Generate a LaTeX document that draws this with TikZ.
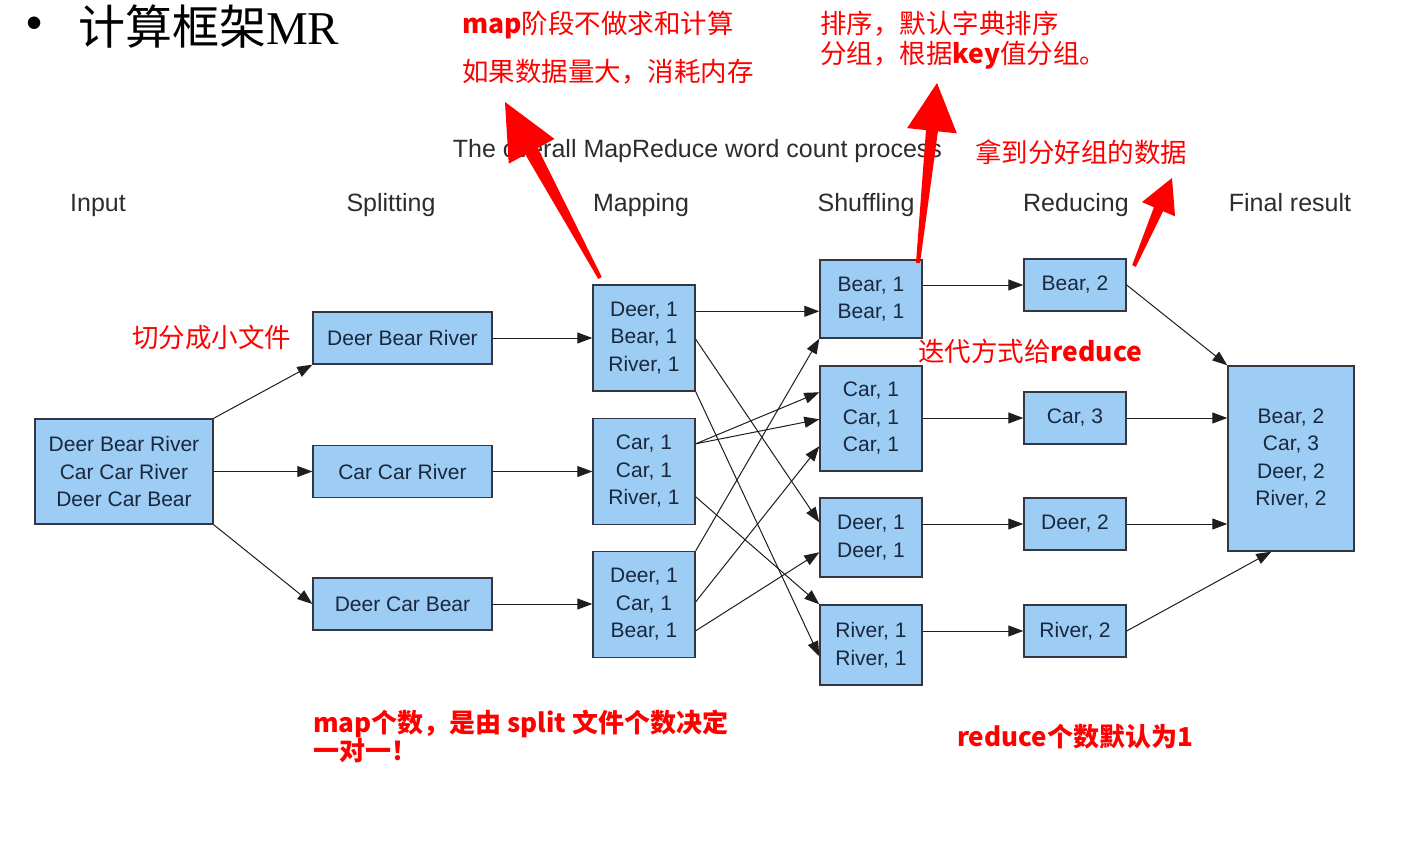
\documentclass[tikz,border=0pt]{standalone}
\usepackage{fontspec}
\setmainfont{Liberation Sans}
\newfontfamily\cjk{Noto Sans CJK SC}
\newfontfamily\serifmr{Liberation Serif}
\usetikzlibrary{arrows.meta,calc}
\definecolor{boxblue}{RGB}{157,204,245}
\definecolor{boxline}{RGB}{50,55,65}
\definecolor{boxtext}{RGB}{25,40,60}
\definecolor{headtext}{RGB}{45,45,45}
\definecolor{conncol}{RGB}{30,30,30}
\definecolor{annred}{RGB}{255,0,0}
\tikzset{
 box/.style={draw=boxline, line width=1.4pt, fill=boxblue, text=boxtext,
   font=\fontsize{21}{27.5}\selectfont, align=center, inner sep=0pt},
 head/.style={text=headtext, font=\fontsize{25}{30}\selectfont, anchor=base, inner sep=0pt},
 conn/.style={draw=conncol, line width=1pt, -{Triangle[length=15pt,width=11pt]}},
 ann/.style={text=annred, font=\cjk\fontsize{26.5}{30}\selectfont, anchor=west, inner sep=0pt, align=left},
 annb/.style={text=annred, font=\cjk\bfseries\fontsize{26}{28}\selectfont, anchor=west, inner sep=0pt, align=left},
 redarrow/.style={fill=annred},
}
\newcommand{\bigarrow}[6]{%
 \coordinate (#3h) at ($(#2)!#4!(#1)$);
 \fill[redarrow] ($(#1)!2pt!90:(#2)$) -- ($(#3h)!#6!90:(#2)$) -- ($(#3h)!#5!90:(#2)$) -- (#2)
   -- ($(#3h)!#5!-90:(#2)$) -- ($(#3h)!#6!-90:(#2)$) -- ($(#1)!2pt!-90:(#2)$) -- cycle;
}
\begin{document}
\begin{tikzpicture}[x=1pt,y=-1pt]
\useasboundingbox[fill=white] (0,0) rectangle (1401,851);

% title
\node[inner sep=0pt, font=\fontsize{46}{50}\selectfont] (bul) at (35,28) {•};
\node[inner sep=0pt, anchor=west, font=\fontsize{47}{52}\selectfont] (ttl) at (78,27) {{\cjk 计算框架}{\serifmr MR}};

% diagram title and headers
\node[head] (dtitle) at (697.5,157) {The overall MapReduce word count process};
\node[head] (hin) at (98,211) {Input};
\node[head] (hsp) at (391,211) {Splitting};
\node[head] (hma) at (641,211) {Mapping};
\node[head] (hsh) at (866,211) {Shuffling};
\node[head] (hre) at (1076,211) {Reducing};
\node[head] (hfi) at (1290,211) {Final result};

% boxes
\node[box, minimum width=178pt, minimum height=105pt] (inp) at (124,471.5) {Deer Bear River\\Car Car River\\Deer Car Bear};
\node[box, minimum width=179pt, minimum height=52pt] (s1) at (402.5,338) {Deer Bear River};
\node[box, minimum width=179pt, minimum height=52pt] (s2) at (402.5,471.5) {Car Car River};
\node[box, minimum width=179pt, minimum height=52pt] (s3) at (402.5,604) {Deer Car Bear};
\node[box, minimum width=102pt, minimum height=106pt] (m1) at (644,338) {Deer, 1\\Bear, 1\\River, 1};
\node[box, minimum width=102pt, minimum height=106pt] (m2) at (644,471.5) {Car, 1\\Car, 1\\River, 1};
\node[box, minimum width=102pt, minimum height=106pt] (m3) at (644,604.5) {Deer, 1\\Car, 1\\Bear, 1};
\node[box, minimum width=102pt, minimum height=78pt] (sh1) at (871,299) {Bear, 1\\Bear, 1};
\node[box, minimum width=102pt, minimum height=105pt] (sh2) at (871,418.5) {Car, 1\\Car, 1\\Car, 1};
\node[box, minimum width=102pt, minimum height=79pt] (sh3) at (871,537.5) {Deer, 1\\Deer, 1};
\node[box, minimum width=102pt, minimum height=80pt] (sh4) at (871,645) {River, 1\\River, 1};
\node[box, minimum width=102pt, minimum height=52pt] (r1) at (1075,285) {Bear, 2};
\node[box, minimum width=102pt, minimum height=52pt] (r2) at (1075,418) {Car, 3};
\node[box, minimum width=102pt, minimum height=52pt] (r3) at (1075,524) {Deer, 2};
\node[box, minimum width=102pt, minimum height=52pt] (r4) at (1075,631) {River, 2};
\node[box, minimum width=126pt, minimum height=185pt] (f) at (1291,458.5) {Bear, 2\\Car, 3\\Deer, 2\\River, 2};

% connectors: input -> splitting
\draw[conn] (inp.north east) -- (s1.south west);
\draw[conn] (inp.east) -- (s2.west);
\draw[conn] (inp.south east) -- (s3.west);
% splitting -> mapping
\draw[conn] (s1.east) -- (m1.west);
\draw[conn] (s2.east) -- (m2.west);
\draw[conn] (s3.east) -- (s3.east -| m3.west);
% mapping -> shuffling
\draw[conn] ([yshift=-27pt]m1.north east) -- ([yshift=-52pt]sh1.north west);
\draw[conn] ([yshift=-55pt]m1.north east) -- ([yshift=-25pt]sh3.north west);
\draw[conn] (m1.south east) -- ([yshift=-52pt]sh4.north west);
\draw[conn] ([yshift=-26pt]m2.north east) -- ([yshift=-27pt]sh2.north west);
\draw[conn] ([yshift=-26pt]m2.north east) -- ([yshift=-54pt]sh2.north west);
\draw[conn] ([yshift=-79pt]m2.north east) -- (sh4.north west);
\draw[conn] (m3.north east) -- (sh1.south west);
\draw[conn] ([yshift=-51pt]m3.north east) -- ([yshift=-81pt]sh2.north west);
\draw[conn] ([yshift=-80pt]m3.north east) -- ([yshift=-55pt]sh3.north west);
% shuffling -> reducing
\draw[conn] (r1.west -| sh1.east) -- (r1.west);
\draw[conn] (r2.west -| sh2.east) -- (r2.west);
\draw[conn] (r3.west -| sh3.east) -- (r3.west);
\draw[conn] (r4.west -| sh4.east) -- (r4.west);
% reducing -> final
\draw[conn] (r1.east) -- (f.north west);
\draw[conn] (r2.east) -- (r2.east -| f.west);
\draw[conn] (r3.east) -- (r3.east -| f.west);
\draw[conn] (r4.east) -- ([xshift=44pt]f.south west);

% red annotations
\node[ann] (t1) at (462,25) {{\bfseries map}阶段不做求和计算};
\node[ann] (t2) at (462,72) {如果数据量大，消耗内存};
\node[ann] (t3) at (820,40) {排序，默认字典排序\\分组，根据{\bfseries key}值分组。};
\node[ann] (t4) at (975,152) {拿到分好组的数据};
\node[ann] (t5) at (132,337) {切分成小文件};
\node[ann] (t6) at (918,351) {迭代方式给{\bfseries reduce}};
\node[annb] (t7) at (313,736) {map个数，是由 split 文件个数决定\\一对一！};
\node[annb] (t8) at (957,737) {reduce个数默认为1};

% red block arrows
\coordinate (a1t) at (600,278);
\coordinate (a1p) at (505,102);
\coordinate (a2t) at (918,263);
\coordinate (a2p) at (937,83);
\coordinate (a3t) at (1134,266);
\coordinate (a3p) at (1172,178);
\bigarrow{a1t}{a1p}{a1}{56pt}{26pt}{7pt}
\bigarrow{a2t}{a2p}{a2}{48pt}{25pt}{6pt}
\bigarrow{a3t}{a3p}{a3}{34pt}{18pt}{5pt}
\end{tikzpicture}
\end{document}
